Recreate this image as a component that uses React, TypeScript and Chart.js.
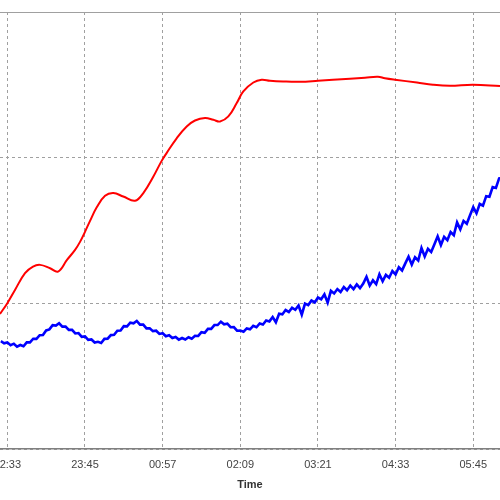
import React, { useEffect, useRef } from "react";
import { Chart, registerables } from "chart.js";

Chart.register(...registerables);

// x values are minutes after 22:33
const tickMinutes = [0, 72, 144, 216, 288, 360, 432];
const tickLabels = ["22:33", "23:45", "00:57", "02:09", "03:21", "04:33", "05:45"];
const xMin = -6.8;
const xMax = 456.8;

const redTimes = [
  -6.8, 0, 7.1, 16.4, 23.8, 30.3, 39.6, 47.0, 55.3, 62.8, 67.4, 72.0, 76.7, 82.9, 90.6,
  98.3, 107.5, 118.4, 126.1, 135.3, 143.1, 147.8, 157.0, 166.3, 174.0, 183.3, 191.0,
  197.2, 204.9, 212.7, 218.8, 228.1, 235.8, 243.5, 255.6, 271.3, 288.0, 301.9, 317.7,
  331.6, 343.6, 350.1, 359.4, 379.8, 394.6, 410.4, 431.7, 456.8,
];
const redValues = [
  9.27, 10.01, 10.92, 12.07, 12.52, 12.64, 12.41, 12.18, 12.98, 13.67, 14.22, 14.91, 15.66,
  16.59, 17.38, 17.57, 17.33, 17.04, 17.57, 18.69, 19.78, 20.33, 21.33, 22.14, 22.55, 22.72,
  22.6, 22.48, 22.83, 23.75, 24.55, 25.16, 25.35, 25.28, 25.23, 25.21, 25.28, 25.35, 25.42,
  25.49, 25.55, 25.45, 25.35, 25.16, 25.01, 24.94, 25.01, 24.92,
];

// blue series sampled every 3 minutes starting at -6
const blueStart = -6;
const blueStep = 3;
const blueValues = [
  7.40, 7.26, 7.32, 7.13, 7.23, 7.03, 7.14, 7.05, 7.32, 7.32, 7.57, 7.56, 7.81, 7.83, 8.14,
  8.21, 8.50, 8.47, 8.63, 8.40, 8.41, 8.18, 8.18, 7.93, 7.96, 7.70, 7.73, 7.49, 7.52, 7.31,
  7.36, 7.28, 7.56, 7.57, 7.82, 7.84, 8.12, 8.13, 8.43, 8.42, 8.67, 8.63, 8.79, 8.54, 8.54,
  8.28, 8.29, 8.09, 8.12, 7.90, 7.95, 7.74, 7.81, 7.62, 7.69, 7.51, 7.62, 7.52, 7.67, 7.57,
  7.77, 7.76, 8.02, 7.98, 8.25, 8.25, 8.51, 8.51, 8.74, 8.56, 8.60, 8.36, 8.37, 8.12, 8.13,
  8.05, 8.28, 8.22, 8.46, 8.36, 8.62, 8.55, 8.82, 8.76, 9.06, 8.70, 9.28, 9.24, 9.54, 9.41,
  9.70, 9.56, 9.85, 9.22, 9.98, 9.88, 10.19, 10.06, 10.40, 10.28, 10.62, 10.05, 10.86, 10.68,
  10.98, 10.78, 11.12, 10.90, 11.22, 10.98, 11.30, 11.04, 11.36, 11.82, 11.22, 11.58, 11.32,
  12.00, 11.52, 11.95, 11.76, 12.22, 11.98, 12.48, 12.26, 12.74, 13.20, 12.66, 13.16, 12.94,
  13.80, 13.22, 13.74, 13.52, 14.05, 14.60, 14.00, 14.56, 14.34, 14.90, 14.68, 15.56, 15.08,
  15.66, 15.46, 16.05, 16.60, 16.18, 16.82, 16.70, 17.36, 17.32, 17.98, 17.92, 18.58, 18.62,
];

const FONT = "Arial, 'Liberation Sans', sans-serif";

const topBorder = {
  id: "topBorder",
  beforeDatasetsDraw(chart: any) {
    const { ctx, chartArea } = chart;
    ctx.save();
    ctx.strokeStyle = "#a0a0a0";
    ctx.lineWidth = 1;
    ctx.setLineDash([]);
    ctx.beginPath();
    ctx.moveTo(chartArea.left, Math.round(chartArea.top) + 0.5);
    ctx.lineTo(chartArea.right, Math.round(chartArea.top) + 0.5);
    ctx.stroke();
    ctx.restore();
  },
};

export default function App() {
  const ref = useRef<HTMLCanvasElement | null>(null);

  useEffect(() => {
    if (!ref.current) return;
    const red = redTimes.map((t, i) => ({ x: t, y: redValues[i] }));
    const blue = blueValues.map((v, i) => ({ x: blueStart + i * blueStep, y: v }));
    const chart = new Chart(ref.current, {
      type: "line",
      data: {
        datasets: [
          {
            data: blue,
            borderColor: "#0000ff",
            borderWidth: 2.6,
            pointRadius: 0,
            tension: 0,
          },
          {
            data: red,
            borderColor: "#ff0000",
            borderWidth: 2,
            pointRadius: 0,
            tension: 0.4,
          },
        ],
      },
      options: {
        animation: false,
        responsive: false,
        devicePixelRatio: 1,
        layout: { padding: { left: 50, right: 50, top: 12, bottom: 8.4 } },
        plugins: { legend: { display: false }, tooltip: { enabled: false } },
        scales: {
          x: {
            type: "linear",
            min: xMin,
            max: xMax,
            afterBuildTicks: (scale: any) => {
              scale.ticks = tickMinutes.map((v) => ({ value: v }));
            },
            ticks: {
              autoSkip: false,
              maxRotation: 0,
              padding: 4.4,
              color: "#444",
              font: { family: FONT, size: 11 },
              callback: (_v: any, i: number) => tickLabels[i],
            },
            grid: {
              color: "#a0a0a0",
              lineWidth: 1,
              drawTicks: true,
              tickLength: 5,
              tickColor: "rgba(0,0,0,0)",
            },
            border: { display: true, color: "#808080", width: 1.5, dash: [3, 3] },
            title: {
              display: true,
              text: "Time",
              color: "#333",
              font: { family: FONT, size: 11, weight: "bold" },
              padding: { top: 2.4, bottom: 0 },
            },
          },
          y: {
            min: 0,
            max: 30,
            ticks: { display: false, stepSize: 10 },
            grid: { color: "#a0a0a0", lineWidth: 1, drawTicks: false },
            border: { display: false, dash: [3, 3] },
          },
        },
      },
      plugins: [topBorder],
    });
    return () => chart.destroy();
  }, []);

  return (
    <div
      style={{
        position: "fixed",
        left: 0,
        top: 0,
        width: 500,
        height: 500,
        overflow: "hidden",
        background: "#fff",
      }}
    >
      <canvas
        ref={ref}
        width={600}
        height={500}
        style={{ position: "absolute", left: -50, top: 0 }}
      />
    </div>
  );
}
